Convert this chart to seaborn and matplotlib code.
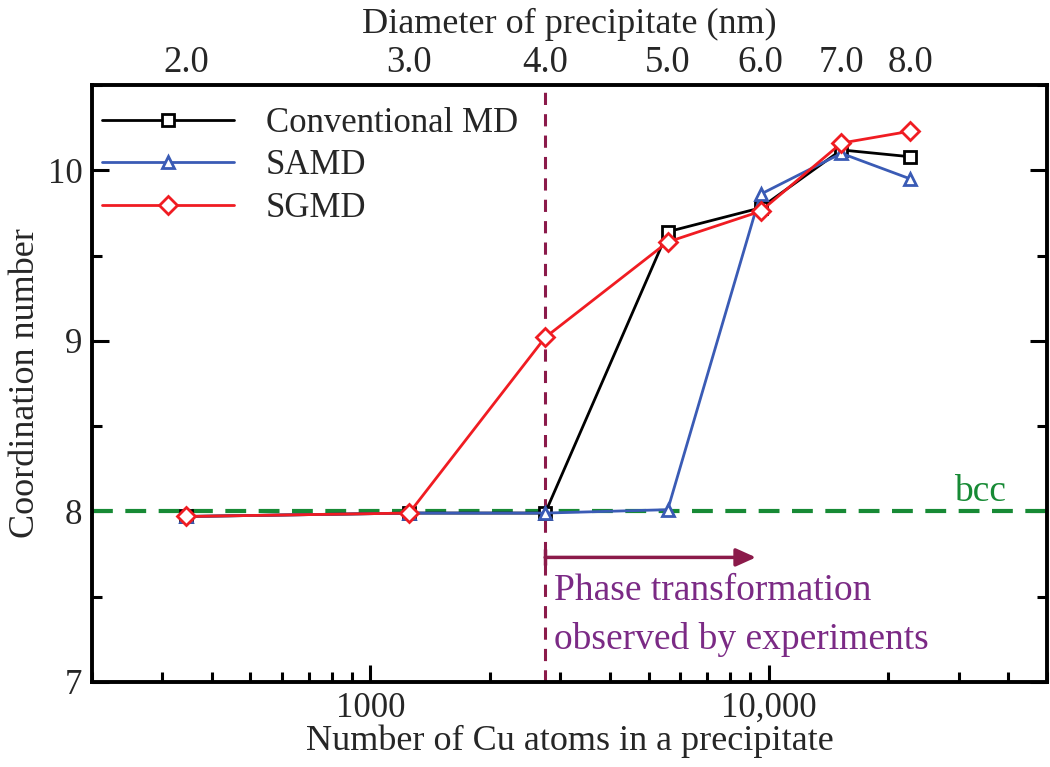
import numpy as np
import pandas as pd
import matplotlib
matplotlib.use("Agg")
import matplotlib.pyplot as plt
import seaborn as sns
from matplotlib.ticker import LogLocator, NullFormatter, FixedLocator, FuncFormatter

# ---------------- data ----------------
atoms = [344, 1252, 2748, 5584, 9547, 15240, 22700]
diameters = ["2.0", "3.0", "4.0", "5.0", "6.0", "7.0", "8.0"]
conventional_md = [7.97, 7.99, 7.99, 9.64, 9.78, 10.12, 10.08]
samd = [7.97, 7.99, 7.99, 8.01, 9.86, 10.10, 9.95]
sgmd = [7.97, 7.99, 9.02, 9.58, 9.76, 10.16, 10.23]
series_names = ["Conventional MD", "SAMD", "SGMD"]
bcc_value = 8.0
exp_threshold = 2748
arrow_end = 9300
note_lines = ["Phase transformation", "observed by experiments"]

# ---------------- style ----------------
sns.set_theme(style="ticks")
plt.rcParams["font.family"] = ["Liberation Serif", "DejaVu Serif"]
plt.rcParams["mathtext.fontset"] = "stix"

fig = plt.figure(figsize=(10.5, 7.67), dpi=100)
ax = fig.add_axes([0.0876, 0.111, 0.9094, 0.778])

colors = {"Conventional MD": "#000000", "SAMD": "#3a5bb5", "SGMD": "#f01c22"}
markers = {"Conventional MD": "s", "SAMD": "^", "SGMD": "D"}
msizes = {"Conventional MD": 8, "SAMD": 9, "SGMD": 9}
values = {"Conventional MD": conventional_md, "SAMD": samd, "SGMD": sgmd}

for name in series_names:
    df = pd.DataFrame({"atoms": atoms, "cn": values[name]})
    sns.lineplot(data=df, x="atoms", y="cn", ax=ax, color=colors[name],
                 marker=markers[name], markersize=msizes[name],
                 markerfacecolor="white", markeredgecolor=colors[name],
                 markeredgewidth=2.0, linewidth=2.0, label=name, sort=False)

ax.set_xscale("log")
ax.set_xlim(200, 50000)
ax.set_ylim(7, 10.5)

# reference lines
ax.axhline(bcc_value, color="#178a35", linestyle=(0, (5, 3)), linewidth=3, zorder=1.5)
ax.axvline(exp_threshold, color="#8b1a4a", linestyle=(0, (4, 3)), linewidth=2.2, zorder=1.5)
ax.text(39500, 8.06, "bcc", color="#178a35", fontsize=27, ha="right", va="baseline")

ax.annotate("", xy=(arrow_end, 7.73), xytext=(exp_threshold, 7.73),
            arrowprops=dict(arrowstyle="-|>,head_length=1.0,head_width=0.45",
                            color="#8b1a4a", lw=2.5, shrinkA=0, shrinkB=0))
ax.plot([exp_threshold], [7.73], marker="|", markersize=12, markeredgewidth=2.5,
        color="#8b1a4a")
for line, yb in zip(note_lines, [7.48, 7.19]):
    ax.text(exp_threshold * 1.055, yb, line, color="#7b2a85", fontsize=27,
            ha="left", va="baseline")

# ticks
ax.xaxis.set_major_locator(FixedLocator([1000, 10000]))
ax.xaxis.set_major_formatter(FuncFormatter(lambda v, p: "1000" if v < 5000 else "10,000"))
ax.xaxis.set_minor_locator(LogLocator(base=10, subs=np.arange(2, 10)))
ax.xaxis.set_minor_formatter(NullFormatter())
ax.set_yticks([7, 8, 9, 10])
ax.set_yticks([7.5, 8.5, 9.5, 10.5], minor=True)
ax.tick_params(which="both", direction="in", top=True, right=True, width=2.2,
               labelsize=25, color="black")
ax.tick_params(which="major", length=12, pad=7)
ax.tick_params(which="minor", length=7)
for s in ax.spines.values():
    s.set_linewidth(2.8)
    s.set_color("black")

ax.set_xlabel("Number of Cu atoms in a precipitate", fontsize=26, labelpad=0)
ax.set_ylabel("Coordination number", fontsize=26, labelpad=4)

# top axis: diameter
ax2 = ax.twiny()
ax2.set_xscale("log")
ax2.set_xlim(ax.get_xlim())
ax2.set_xticks(atoms)
ax2.set_xticklabels(diameters)
ax2.xaxis.set_minor_locator(FixedLocator([]))
ax2.tick_params(axis="x", which="both", length=0, labelsize=26.5, pad=4)
ax2.set_xlabel("Diameter of precipitate (nm)", fontsize=26, labelpad=9)
for s in ax2.spines.values():
    s.set_visible(False)

leg = ax.legend(loc="upper left", frameon=False, fontsize=25, handlelength=3.8,
                handletextpad=0.92, labelspacing=0.27, borderaxespad=0.2,
                borderpad=0.29, bbox_to_anchor=(-0.0073, 0.992))

fig.savefig("out.png", dpi=100)
